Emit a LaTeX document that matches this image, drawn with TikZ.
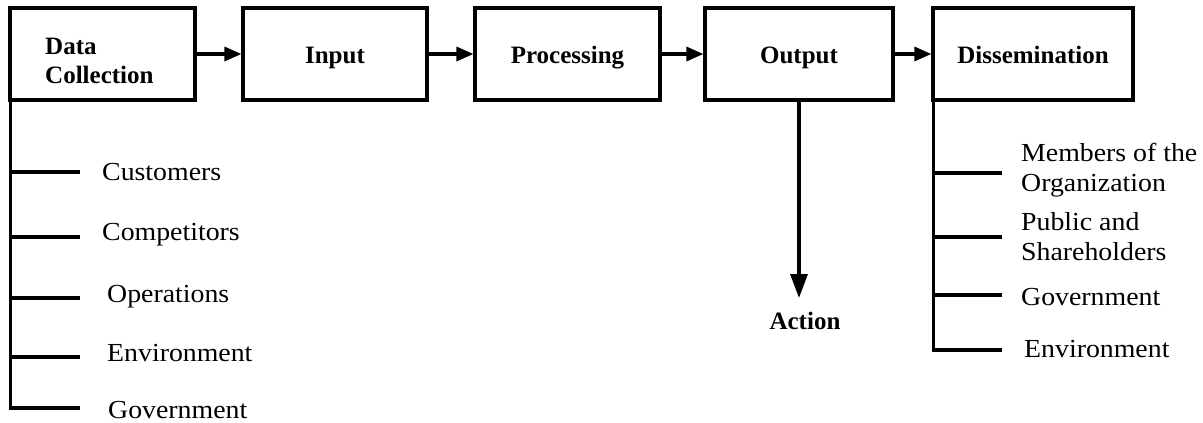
\documentclass[tikz,border=0pt]{standalone}
\usepackage{fontspec}
\setmainfont{Liberation Serif}
\newfontfamily\labfont[FakeStretch=1.07]{Liberation Serif}
\usetikzlibrary{arrows.meta}
\begin{document}
\begin{tikzpicture}[x=1pt,y=-1pt,
  box/.style={draw, line width=3.2pt, minimum height=92pt, inner sep=0pt,
              text height=22pt, text depth=4pt,
              font=\fontsize{25}{28}\selectfont\bfseries},
  conn/.style={line width=3.2pt},
  arr/.style={conn, -{Triangle[length=17pt,width=14pt]}},
  downarr/.style={conn, -{Triangle[length=24pt,width=17pt]}},
  lab/.style={anchor=west, inner sep=0pt, align=left,
              font=\labfont\fontsize{26}{30}\selectfont},
  boxlab/.style={anchor=west, inner sep=0pt, align=left,
              font=\fontsize{25}{29}\selectfont\bfseries},
  actlab/.style={inner sep=0pt, font=\fontsize{25}{28}\selectfont\bfseries}
]
\useasboundingbox (0,0) rectangle (1203,423);

% main chain of stages
\node[box, minimum width=185pt] (dc)  at (102.5,54) {};
\node[boxlab] (dctext) at (45,61) {Data\\Collection};
\node[box, minimum width=184pt] (in)  at (335,54)   {Input};
\node[box, minimum width=185pt] (pr)  at (567.5,54) {Processing};
\node[box, minimum width=188pt] (out) at (799,54)   {Output};
\node[box, minimum width=200pt] (dis) at (1033,54)  {Dissemination};

\draw[arr] (dc) -- (in);
\draw[arr] (in) -- (pr);
\draw[arr] (pr) -- (out);
\draw[arr] (out) -- (dis);

% output leads to action
\node[actlab] (act) at (805,321) {Action};
\coordinate (acttip) at (799,298);
\draw[downarr] (out.south) -- (acttip);

% data sources
\node[lab] (cust) at (102,172) {Customers};
\node[lab] (comp) at (102,235) {Competitors};
\node[lab] (oper) at (107,297) {Operations};
\node[lab] (envl) at (107,353) {Environment};
\node[lab] (govl) at (108,410) {Government};

\coordinate (lbus) at ([xshift=2pt]dc.south west);
\coordinate (lend) at (80,0);
\draw[conn] (lbus) |- (lend |- 0,408);
\draw[conn] (lbus |- 0,172) -- (lend |- 0,172);
\draw[conn] (lbus |- 0,237) -- (lend |- 0,237);
\draw[conn] (lbus |- 0,298) -- (lend |- 0,298);
\draw[conn] (lbus |- 0,357) -- (lend |- 0,357);

% recipients
\node[lab] (memb) at (1021,170) {Members of the\\Organization};
\node[lab] (publ) at (1021,237) {Public and\\Shareholders};
\node[lab] (govr) at (1021,297) {Government};
\node[lab] (envr) at (1024,349) {Environment};

\coordinate (rbus) at ([xshift=2pt]dis.south west);
\coordinate (rend) at (1002,0);
\draw[conn] (rbus) |- (rend |- 0,350);
\draw[conn] (rbus |- 0,173) -- (rend |- 0,173);
\draw[conn] (rbus |- 0,237) -- (rend |- 0,237);
\draw[conn] (rbus |- 0,295) -- (rend |- 0,295);
\end{tikzpicture}
\end{document}
